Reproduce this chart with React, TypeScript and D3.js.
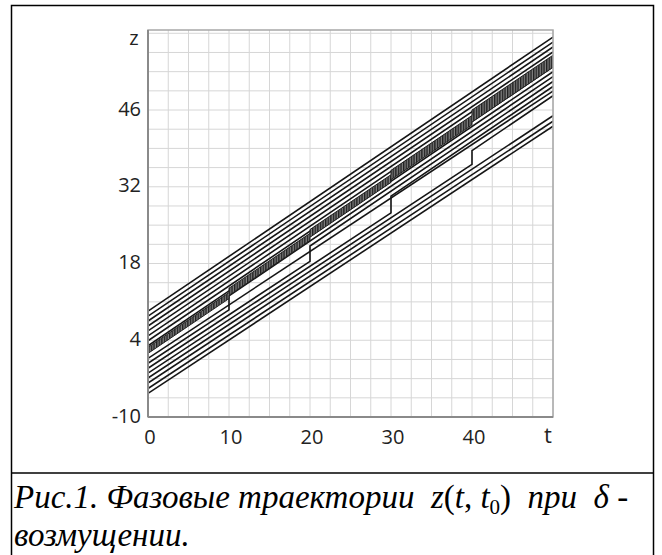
import * as d3 from 'd3'

const W = 662
const H = 555

// axes
const T_MAX = 50
const Z_MIN = -10
const Z_MAX = 60.6
const xTicks = [0, 10, 20, 30, 40]
const yTicks = [-10, 4, 18, 32, 46]
const xGridStep = 2.5
const yGridStep = 3.5

// perturbation moments
const jumpTimes = [10, 20, 30, 40]

// upper trajectories z = t + c (no perturbation)
const upperOffsets = [9.3, 8.4, 7.5, 6.6, 5.7, 4.8, 3.9, 3.0]
// lower trajectories, slightly flatter
const lowerOffsets = [0.7, -0.2, -1.1, -2.0, -2.9, -3.8, -4.8, -5.7]
const lowerSlope = 0.975
// which lower trajectory is kicked at each jump time and where it lands (z)
const jumpLine = [1, 2, 3, 4]
const jumpLanding = [12.1, 21.2, 30.3, 38.6]

// dense band (offset from z = t) between consecutive jumps
const bandLow = [1.6, 2.2, 2.8, 3.3, 3.8]
const bandHigh = [2.7, 3.5, 4.2, 5.0, 6.0]

export default function App() {
  const x = d3.scaleLinear().domain([0, T_MAX]).range([148, 553])
  const y = d3.scaleLinear().domain([Z_MIN, Z_MAX]).range([417, 30])
  const line = d3.line<[number, number]>().x(d => x(d[0])).y(d => y(d[1]))

  const xGrid = d3.range(0, T_MAX + 0.01, xGridStep)
  const yGrid = d3.range(Z_MIN, Z_MAX, yGridStep)

  const paths: [number, number][][] = []
  upperOffsets.forEach(c => paths.push([[0, c], [T_MAX, T_MAX + c]]))
  lowerOffsets.forEach((c, i) => {
    const k = jumpLine.indexOf(i)
    if (k < 0) {
      paths.push([[0, c], [T_MAX, T_MAX * lowerSlope + c]])
    } else {
      const tk = jumpTimes[k]
      const zl = jumpLanding[k]
      paths.push([[0, c], [tk, tk * lowerSlope + c], [tk, zl], [T_MAX, zl + (T_MAX - tk)]])
    }
  })

  const bounds = [0, ...jumpTimes, T_MAX]
  const top: [number, number][] = []
  const bottom: [number, number][] = []
  bandLow.forEach((lo, i) => {
    const a = bounds[i], b = bounds[i + 1]
    top.push([a, a + bandHigh[i]], [b, b + bandHigh[i]])
    bottom.push([a, a + lo], [b, b + lo])
  })
  const bandPoly = [...top, ...bottom.reverse()]

  const tickFont = { fontFamily: '"Open Sans", sans-serif', fontSize: 20, fill: '#222' }

  return (
    <svg width={W} height={H} style={{ position: 'absolute', left: 0, top: 0, background: '#fff' }}>
      <defs>
        <clipPath id="plot">
          <rect x={x(0)} y={y(Z_MAX)} width={x(T_MAX) - x(0)} height={y(Z_MIN) - y(Z_MAX)} />
        </clipPath>
        <pattern id="hatch" width={2.6} height={4} patternUnits="userSpaceOnUse">
          <rect width={2.6} height={4} fill="#808080" />
          <line x1={0.7} y1={0} x2={0.7} y2={4} stroke="#1a1a1a" strokeWidth={1.3} />
        </pattern>
      </defs>

      {/* outer table frame */}
      <rect x={11.5} y={5.5} width={642} height={620} fill="none" stroke="#000" strokeWidth={1.5} />
      <line x1={11.5} x2={653.5} y1={473} y2={473} stroke="#000" strokeWidth={1.5} />

      {/* grid */}
      <g stroke="#d6d6d6" strokeWidth={1}>
        {xGrid.map(v => <line key={'gx' + v} x1={x(v)} x2={x(v)} y1={y(Z_MIN)} y2={y(Z_MAX)} />)}
        {yGrid.map(v => <line key={'gy' + v} x1={x(0)} x2={x(T_MAX)} y1={y(v)} y2={y(v)} />)}
      </g>

      <g clipPath="url(#plot)">
        {paths.map((p, i) => (
          <path key={i} d={line(p) || ''} fill="none" stroke="#151515" strokeWidth={1.6} />
        ))}
        <path d={line(bandPoly) + 'Z'} fill="url(#hatch)" stroke="#222" strokeWidth={1} />
      </g>

      {/* plot frame */}
      <rect x={x(0)} y={y(Z_MAX)} width={x(T_MAX) - x(0)} height={y(Z_MIN) - y(Z_MAX)}
        fill="none" stroke="#a8a8a8" strokeWidth={1.5} />
      <line x1={x(0)} x2={x(0)} y1={y(Z_MIN)} y2={y(Z_MAX)} stroke="#8a8a8a" strokeWidth={2} />
      <line x1={x(0)} x2={x(T_MAX)} y1={y(Z_MIN)} y2={y(Z_MIN)} stroke="#8a8a8a" strokeWidth={2} />

      {/* tick labels */}
      {yTicks.map(v => (
        <text key={'yt' + v} x={141} y={y(v) - 2} textAnchor="end" dominantBaseline="central" {...tickFont}>{v}</text>
      ))}
      <text x={134} y={37} textAnchor="middle" dominantBaseline="central" {...tickFont}>z</text>
      {xTicks.map(v => (
        <text key={'xt' + v} x={x(v) + 2} y={436} textAnchor="middle" dominantBaseline="central" {...tickFont}>{v}</text>
      ))}
      <text x={548} y={434} textAnchor="middle" dominantBaseline="central" {...tickFont} fontSize={22}>t</text>

      {/* caption */}
      <g fontFamily='"Liberation Serif", "Times New Roman", serif' fontSize={33} fontStyle="italic" fill="#000">
        <text x={14} y={508} xmlSpace="preserve">
          <tspan>Рис.1. Фазовые траектории  z</tspan>
          <tspan fontStyle="normal">(</tspan>
          <tspan>t</tspan>
          <tspan fontStyle="normal">, </tspan>
          <tspan>t</tspan>
          <tspan fontStyle="normal" fontSize={21} dy={6}>0</tspan>
          <tspan fontStyle="normal" dy={-6}>)</tspan>
          <tspan>  при  δ -</tspan>
        </text>
        <text x={14} y={546}>возмущении.</text>
      </g>
    </svg>
  )
}
